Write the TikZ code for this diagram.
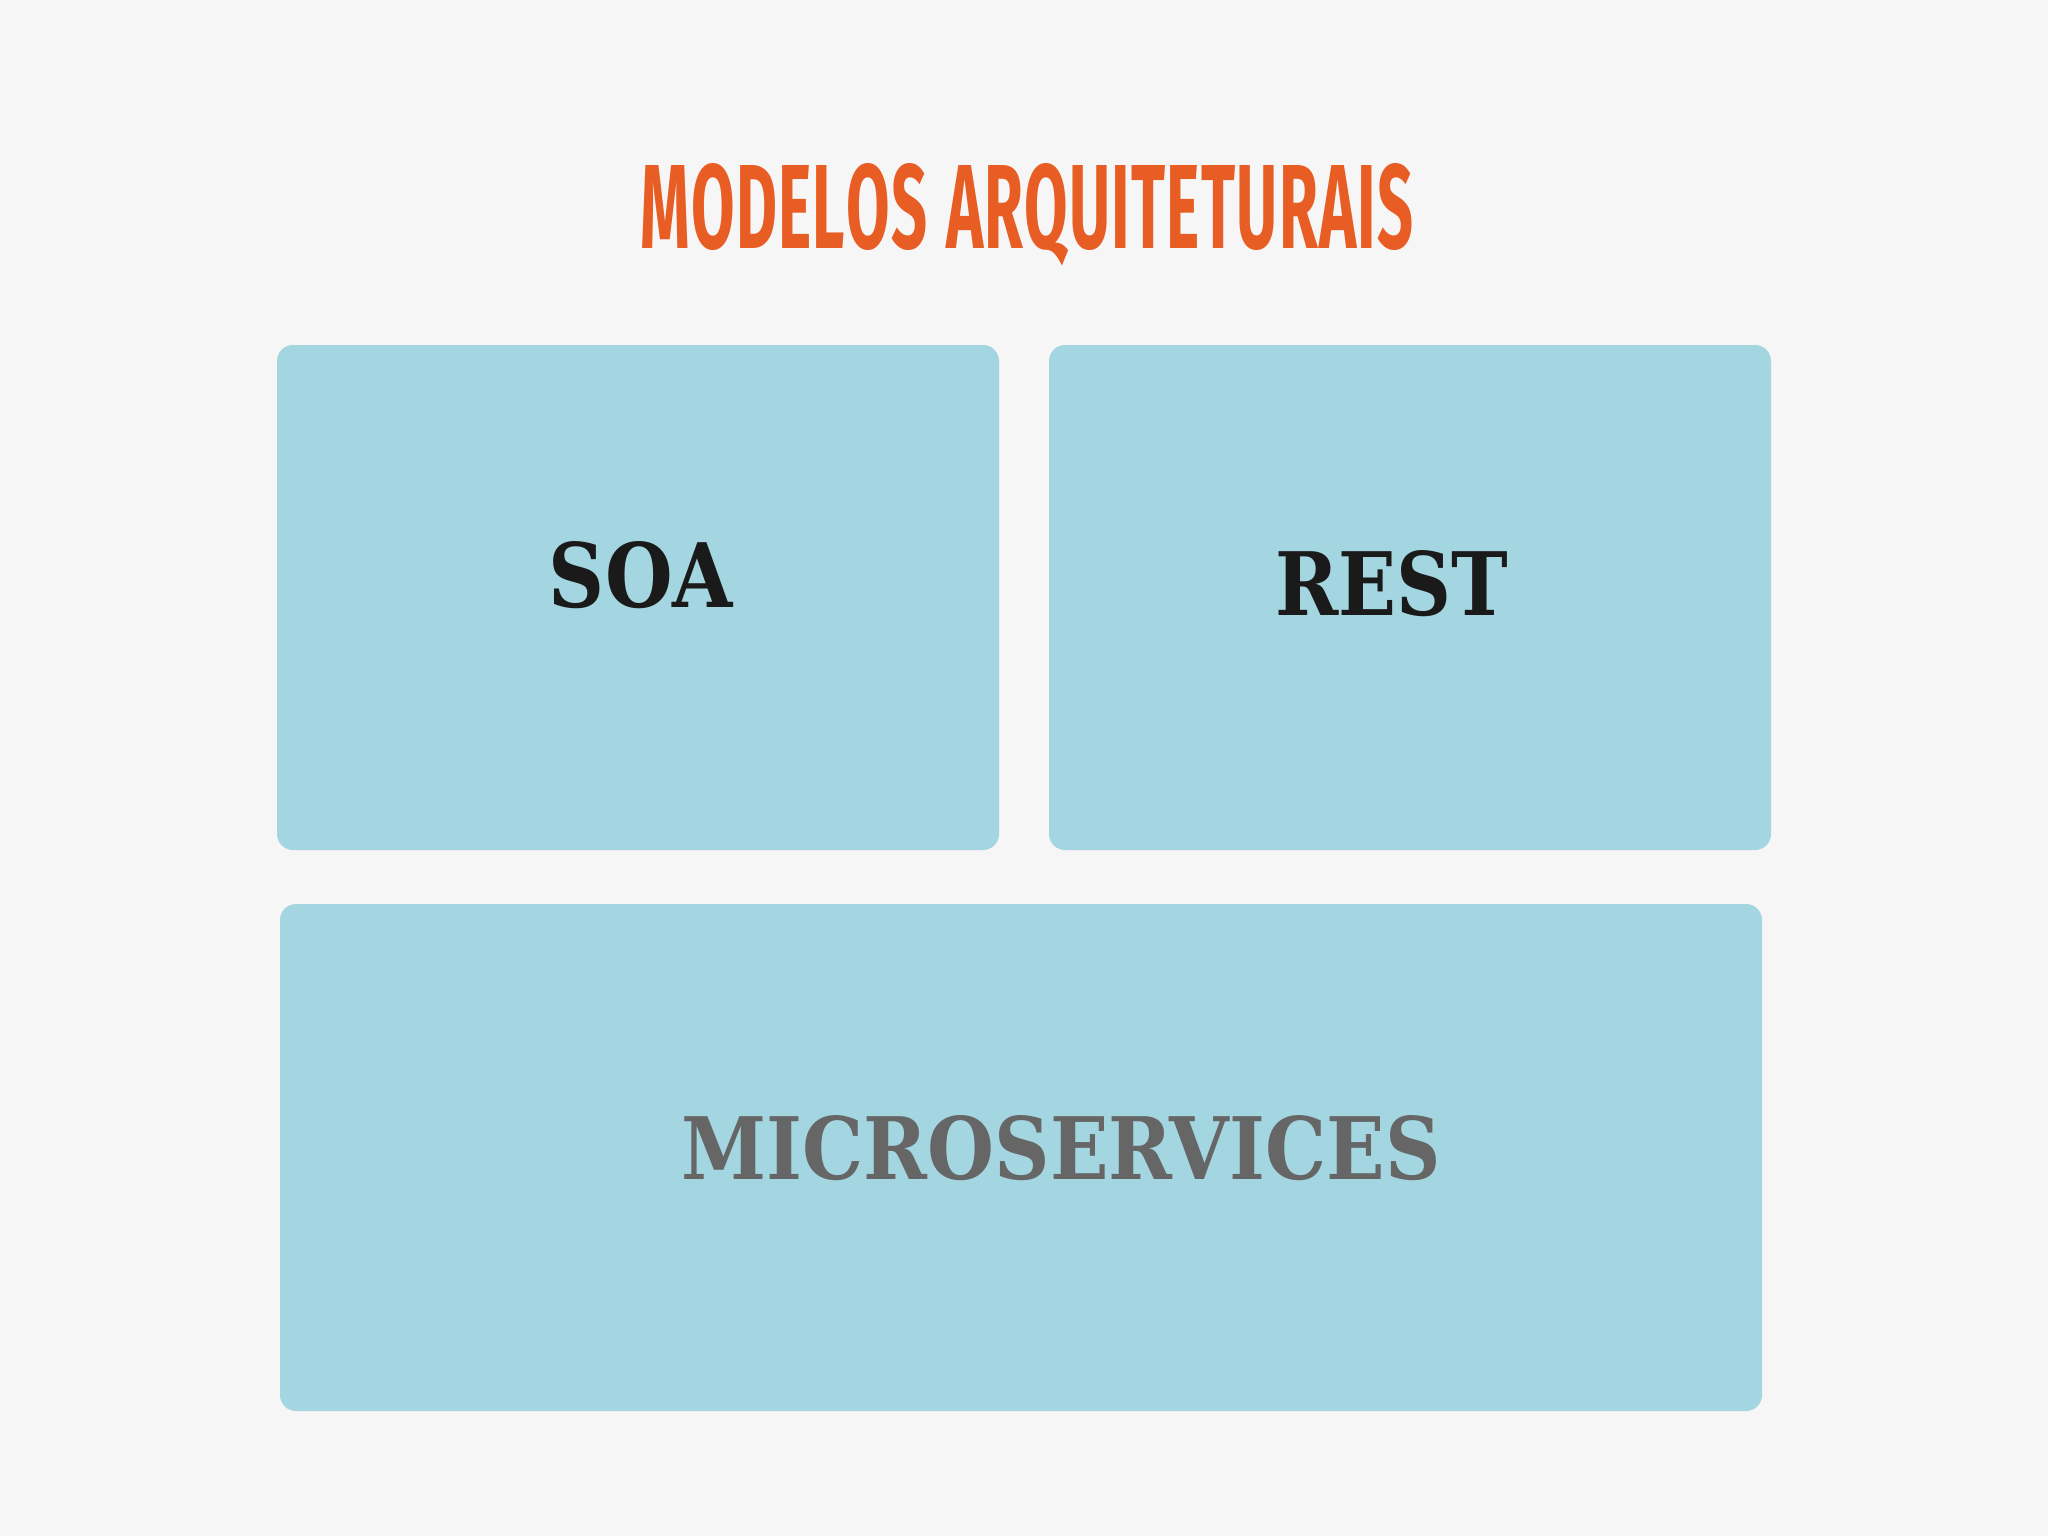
\documentclass[tikz,border=0pt]{standalone}
\usepackage{fontspec}
\usepackage{graphicx}
\setmainfont{DejaVu Serif}
\newfontfamily\titlefont{Fira Sans}
\definecolor{bgcol}{HTML}{F6F6F6}
\definecolor{boxcol}{HTML}{A4D6E1}
\definecolor{titlecol}{HTML}{E85D24}
\definecolor{darktext}{HTML}{1A1A1A}
\definecolor{graytext}{HTML}{666666}
\tikzset{
  panel/.style={fill=boxcol, draw=none, rounded corners=8pt, inner sep=0pt},
  lbl/.style={anchor=base, inner sep=0pt, outer sep=0pt},
}
\begin{document}
\begin{tikzpicture}[x=0.5pt,y=-0.5pt]
\useasboundingbox (0,0) rectangle (2048,1536);
\fill[bgcol] (0,0) rectangle (2048,1536);
% title
\node[lbl, text=titlecol] (title) at (1027,248)
  {\resizebox{386.5pt}{42.5pt}{\titlefont\bfseries M\kern0.02em O\kern0.02em D\kern0.02em E\kern0.02em L\kern0.02em O\kern0.02em S\kern0.06em{} A\kern0.02em R\kern0.02em Q\kern0.02em U\kern0.02em I\kern0.02em T\kern0.02em E\kern0.02em T\kern0.02em U\kern0.02em R\kern0.02em A\kern0.02em I\kern0.02em S}};
% panels
\node[panel, minimum width=361pt, minimum height=252.5pt] (soa) at (638,597.5) {};
\node[panel, minimum width=361pt, minimum height=252.5pt] (rest) at (1410,597.5) {};
\node[panel, minimum width=741pt, minimum height=253.5pt] (micro) at (1021,1157.5) {};
% labels
\node[lbl, text=darktext] (soalbl) at (641,607)
  {\resizebox{92pt}{33pt}{\bfseries SOA}};
\node[lbl, text=darktext] (restlbl) at (1392,615)
  {\resizebox{116.5pt}{32.5pt}{\bfseries REST}};
\node[lbl, text=graytext] (microlbl) at (1061,1179)
  {\resizebox{379.5pt}{32pt}{\bfseries MICROSERVICES}};
\end{tikzpicture}
\end{document}
